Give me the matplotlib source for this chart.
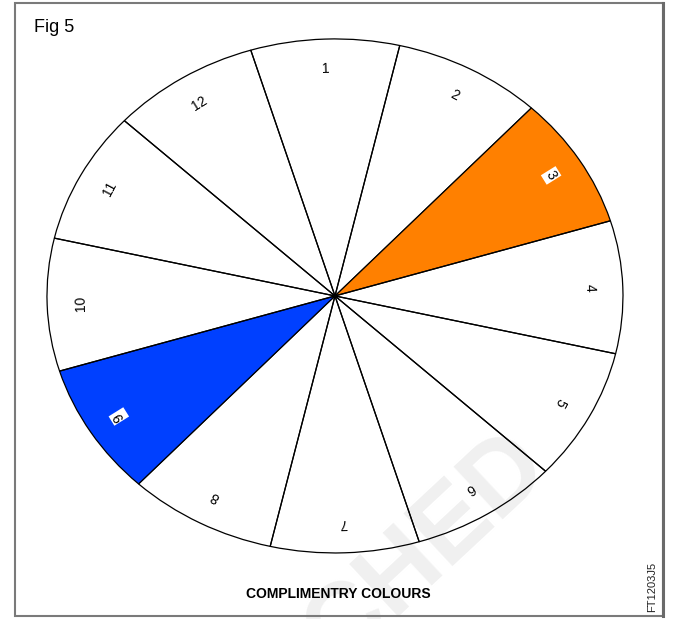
import numpy as np
import matplotlib
matplotlib.use('Agg')
import matplotlib.pyplot as plt
from matplotlib.patches import Rectangle

# data
labels = ['1', '2', '3', '4', '5', '6', '7', '8', '9', '10', '11', '12']
sizes = [1] * 12
colours = ['none', 'none', '#ff8000', 'none', 'none', 'none',
           'none', 'none', '#0040ff', 'none', 'none', 'none']
boxed = ['3', '9']

plt.rcParams['font.family'] = ['Liberation Sans', 'DejaVu Sans']

fig = plt.figure(figsize=(6.77, 6.19), dpi=100)

# faint watermark behind the wheel
fig.text(534 / 677, 1 - 450 / 619, 'CHED', rotation=43, fontsize=74, fontweight='bold',
         color='#f0f0f0', ha='right', va='center', rotation_mode='anchor', zorder=-5)

ax = fig.add_axes([0.0609, 0.0984, 0.8678, 0.847])
ax.set_zorder(1)
ax.patch.set_alpha(0)
start = 107
wedges, _ = ax.pie(sizes, colors=colours, startangle=start, counterclock=False,
                   radius=1.0, wedgeprops=dict(edgecolor='black', linewidth=0.9))
ax.set_aspect('auto')
ax.set_xlim(-1.02, 1.02)
ax.set_ylim(-1.02, 1.02)
ax.axis('off')

for i, lab in enumerate(labels):
    mid = start - 30 * i - 15
    x = 0.885 * np.cos(np.radians(mid))
    y = 0.885 * np.sin(np.radians(mid))
    kw = {}
    if lab in boxed:
        kw['bbox'] = dict(facecolor='white', edgecolor='none', pad=1.2)
    ax.text(x, y, lab, rotation=mid - 90, ha='center', va='center',
            fontsize=10, rotation_mode='anchor', **kw)

fig.text(34 / 677, 1 - 27 / 619, 'Fig 5', fontsize=13, va='center', ha='left')
fig.text(338 / 677, 1 - 594 / 619, 'COMPLIMENTRY COLOURS', fontsize=10,
         fontweight='bold', ha='center', va='center')
fig.text(652 / 677, 1 - 587 / 619, 'FT1203J5', fontsize=8, rotation=90,
         ha='center', va='center', color='#222222')

# frame, right edge a little heavier as in the scan
fig.patches.append(Rectangle((15 / 677, 1 - 616 / 619), 648 / 677, 613 / 619,
                             transform=fig.transFigure, fill=False,
                             edgecolor='#7a7a7a', linewidth=1.5))
fig.add_artist(plt.Line2D([663 / 677, 663 / 677], [1 - 616 / 619, 1 - 3 / 619],
                          transform=fig.transFigure, color='#6a6a6a', linewidth=2.2))

fig.savefig('out.png', dpi=100)
